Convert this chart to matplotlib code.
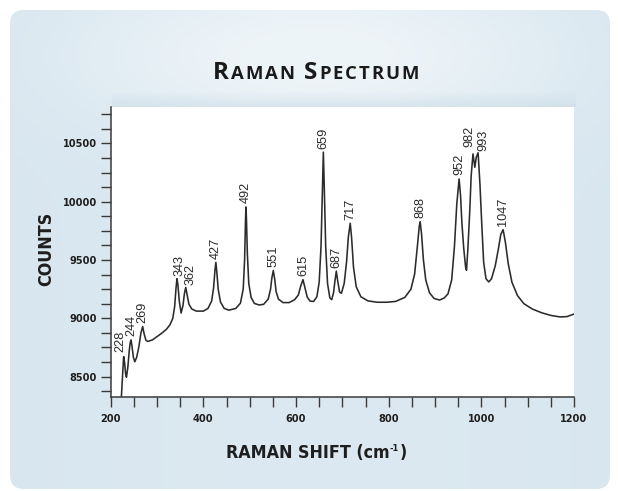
import os
import numpy as np
import matplotlib
matplotlib.use("Agg")
import matplotlib.pyplot as plt
from matplotlib import font_manager as fm
from matplotlib.patches import FancyBboxPatch
from matplotlib.ticker import MultipleLocator

# ---------------- data ----------------
raman_shift = [222, 225, 227, 228, 230, 232, 234, 237, 240, 242, 244, 246, 249, 252,
               256, 261, 265, 269, 272, 276, 280, 290, 300, 310, 320, 328, 334, 338,
               341, 343, 345, 348, 352, 356, 359, 362, 365, 369, 375, 385, 400, 410,
               418, 422, 425, 427, 429, 432, 437, 445, 455, 470, 480, 486, 489, 491,
               492, 493, 495, 498, 503, 510, 520, 530, 540, 545, 548, 551, 554, 557,
               562, 572, 585, 597, 605, 610, 615, 619, 624, 630, 638, 645, 650, 654,
               657, 659, 661, 664, 668, 673, 677, 681, 684, 687, 690, 694, 698, 704,
               709, 713, 717, 720, 724, 730, 740, 755, 775, 795, 815, 835, 848, 856,
               862, 866, 868, 871, 875, 880, 888, 898, 910, 920, 928, 936, 942, 947,
               952, 955, 958, 962, 966, 968, 971, 975, 978, 982, 986, 989, 993, 997,
               1001, 1005, 1010, 1016, 1022, 1030, 1037, 1042, 1047, 1052, 1058, 1066,
               1078, 1092, 1110, 1130, 1150, 1170, 1185, 1200]
counts = [8250, 8470, 8610, 8672, 8620, 8530, 8495, 8580, 8720, 8790, 8815, 8760, 8665, 8628,
          8665, 8760, 8870, 8930, 8870, 8812, 8802, 8815, 8843, 8872, 8905, 8945, 9000, 9100,
          9260, 9340, 9290, 9150, 9045, 9110, 9210, 9265, 9200, 9120, 9080, 9062, 9062, 9085,
          9150, 9260, 9410, 9480, 9400, 9250, 9140, 9085, 9070, 9085, 9130, 9250, 9500, 9850,
          9955, 9850, 9550, 9300, 9180, 9128, 9115, 9120, 9165, 9250, 9350, 9410, 9335, 9230,
          9165, 9135, 9135, 9160, 9200, 9275, 9332, 9265, 9185, 9148, 9145, 9185, 9310, 9620,
          10120, 10425, 10120, 9620, 9300, 9175, 9160, 9220, 9320, 9405, 9320, 9225, 9215, 9300,
          9480, 9700, 9815, 9690, 9440, 9270, 9185, 9150, 9138, 9138, 9145, 9180, 9250, 9380,
          9620, 9790, 9828, 9720, 9500, 9330, 9220, 9170, 9157, 9175, 9210, 9330, 9620, 9980,
          10195, 10060, 9820, 9600, 9440, 9412, 9600, 9920, 10220, 10410, 10295, 10380, 10420, 10150,
          9800, 9480, 9340, 9312, 9340, 9450, 9600, 9720, 9760, 9650, 9470, 9310,
          9195, 9125, 9080, 9048, 9025, 9012, 9015, 9037]
peak_labels = [228, 244, 269, 343, 362, 427, 492, 551, 615, 659, 687, 717, 868,
               952, 982, 993, 1047]
x_ticks = [200, 400, 600, 800, 1000, 1200]
y_ticks = [8500, 9000, 9500, 10000, 10500]
title_words = ["RAMAN", "SPECTRUM"]
x_label_main = "RAMAN SHIFT (cm"
x_label_sup = "-1"
y_label = "COUNTS"


# ---------------- fonts ----------------
def find_font(basename):
    for f in fm.fontManager.ttflist:
        if os.path.basename(f.fname) == basename:
            return f.fname
    return None


cond_file = find_font("DejaVuSansCondensed-Bold.ttf")
narrow_file = find_font("LiberationSansNarrow-Bold.ttf")


def label_font(size):
    if cond_file:
        return fm.FontProperties(fname=cond_file, size=size)
    if narrow_file:
        return fm.FontProperties(fname=narrow_file, size=size * 1.1)
    return fm.FontProperties(family="Liberation Sans", weight="bold", size=size)


# ---------------- figure & decorative background ----------------
W, H = 618, 491
fig = plt.figure(figsize=(W / 100, H / 100), dpi=100)
fig.patch.set_facecolor("white")

bg = fig.add_axes([0, 0, 1, 1])
bg.set_xlim(0, W)
bg.set_ylim(H, 0)
bg.axis("off")
yy, xx = np.mgrid[0:H, 0:W]
edge = np.array([0.84, 0.898, 0.937])
light = np.array([0.93, 0.957, 0.972])
wgt = (0.85 * np.exp(-((xx - 316) / 230.0) ** 2 - ((yy - 55) / 75.0) ** 2)
       + 0.25 * np.exp(-((xx - 316) / 320.0) ** 2))
wgt = np.clip(wgt, 0, 1)[..., None]
img = edge + (light - edge) * wgt
im = bg.imshow(img, extent=(0, W, H, 0), zorder=0, aspect="auto")
frame = FancyBboxPatch((10, 10), 600, 479, boxstyle="round,pad=0,rounding_size=14",
                       facecolor="none", edgecolor="none", transform=bg.transData)
bg.add_patch(frame)
im.set_clip_path(frame)

# subtle shadow band above the plot panel
sh = np.zeros((16, 2, 4))
sh[..., 0:3] = [0.78, 0.85, 0.90]
sh[..., 3] = np.linspace(0.0, 0.45, 16)[:, None]
bg.imshow(sh, extent=(112, 576, 107, 91), zorder=1, aspect="auto")

# ---------------- main axes ----------------
L, R, T, B = 110.7, 574.0, 107.0, 397.3
ax = fig.add_axes([L / W, 1 - B / H, (R - L) / W, (B - T) / H])
ax.set_facecolor("white")
ax.plot(raman_shift, counts, color="#2b2b2b", lw=1.15, solid_joinstyle="round")
ax.set_xlim(200, 1200)
ax.set_ylim(8323, 10812)

for s in ("top", "right"):
    ax.spines[s].set_visible(False)
for s in ("left", "bottom"):
    ax.spines[s].set_color("#3a3a3a")
    ax.spines[s].set_linewidth(1.1)

ax.set_xticks(x_ticks)
ax.set_yticks(y_ticks)
ax.xaxis.set_minor_locator(MultipleLocator(50))
ax.yaxis.set_minor_locator(MultipleLocator(125))
ax.tick_params(which="both", direction="out", length=7, width=1.0, color="#3a3a3a")
ax.tick_params(axis="x", which="major", pad=5)
ax.tick_params(axis="y", which="major", pad=3)
tick_fp = label_font(7.8)
for lab in ax.get_xticklabels() + ax.get_yticklabels():
    lab.set_fontproperties(tick_fp)
    lab.set_color("#1e1e1e")

# peak labels
offsets = {228: (-2.5, 3), 343: (1.5, 2), 362: (3.5, 2), 982: (-2.8, 5), 993: (3.6, 1)}
xs = np.array(raman_shift)
cs = np.array(counts)
for p in peak_labels:
    yv = cs[np.abs(xs - p) <= 3].max()
    dx, dy = offsets.get(p, (0, 2.5))
    ax.annotate(str(p), xy=(p, yv), xytext=(dx, dy), textcoords="offset points",
                rotation=90, ha="center", va="bottom", fontsize=9.2,
                family=["Liberation Sans", "DejaVu Sans"], color="#2a2a2a")

renderer = fig.canvas.get_renderer()

# axis titles
lab_fp = label_font(12.8)
sup_fp = label_font(6.5)
xl_base = 1 - 458 / H
t_main = fig.text(0, xl_base, x_label_main, fontproperties=lab_fp, color="#1e1e1e",
                  ha="left", va="baseline")
t_sup = fig.text(0, 1 - 451 / H, x_label_sup, fontproperties=sup_fp, color="#1e1e1e",
                 ha="left", va="baseline")
t_close = fig.text(0, xl_base, ")", fontproperties=lab_fp, color="#1e1e1e",
                   ha="left", va="baseline")
ws = [t.get_window_extent(renderer).width for t in (t_main, t_sup, t_close)]
x0 = 316 - (sum(ws) + 1) / 2
t_main.set_x(x0 / W)
t_sup.set_x((x0 + ws[0] + 0.5) / W)
t_close.set_x((x0 + ws[0] + ws[1] + 1) / W)

fig.text(46 / W, 1 - 249 / H, y_label, ha="center", va="center", rotation=90,
         fontproperties=lab_fp, color="#1e1e1e")

# title in small caps with light letter spacing
title_fp_big = fm.FontProperties(family=["Open Sans", "DejaVu Sans"], weight="bold", size=17.5)
title_fp_small = fm.FontProperties(family=["Open Sans", "DejaVu Sans"], weight="bold", size=13.3)
base_y = 1 - 79 / H
track = 2.0
word_gap = 9
letters = []
for wi, word in enumerate(title_words):
    for ci, ch in enumerate(word):
        fp = title_fp_big if ci == 0 else title_fp_small
        t = fig.text(0, base_y, ch, fontproperties=fp, color="#1a1a1a",
                     ha="left", va="baseline")
        gap = track if ci < len(word) - 1 else (word_gap if wi < len(title_words) - 1 else 0)
        letters.append((t, gap))
lw_ = [t.get_window_extent(renderer).width for t, _ in letters]
total = sum(lw_) + sum(g for _, g in letters)
x0 = 316 - total / 2
for (t, gap), w in zip(letters, lw_):
    t.set_x(x0 / W)
    x0 += w + gap

fig.savefig("out.png", dpi=100)
